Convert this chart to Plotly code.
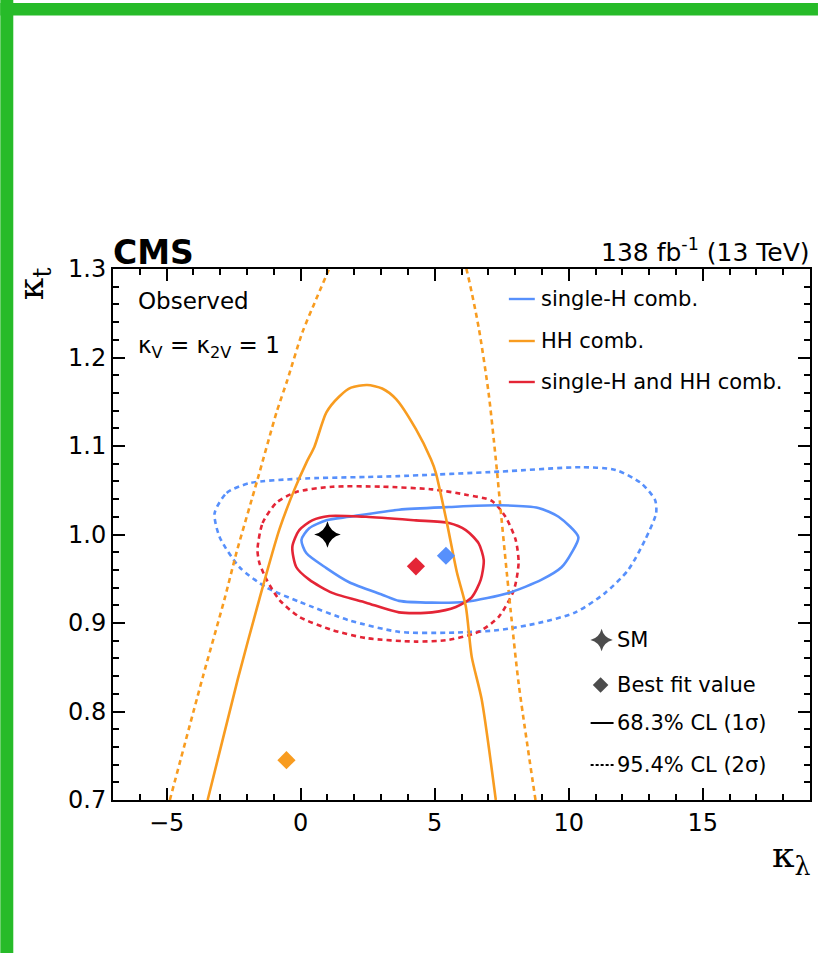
import plotly.graph_objects as go

# ---------------- data: likelihood contours in the (kappa_lambda, kappa_t) plane ----------------
# HH combination (open contours, leaving the plotted range)
hh_1s_kl = [-3.47, -2.35, -1.54, -0.79, -0.23, 0.21, 0.51, 0.96, 1.44, 1.88, 2.48,
            3.04, 3.56, 4.30, 4.86, 5.04, 5.45, 5.83, 6.16, 6.38, 6.75, 7.28]
hh_1s_kt = [0.700, 0.836, 0.927, 1.006, 1.051, 1.081, 1.099, 1.138, 1.156, 1.166, 1.169,
            1.165, 1.153, 1.119, 1.085, 1.070, 1.014, 0.957, 0.919, 0.862, 0.814, 0.700]

hh_2s_left_kl = [-4.88, -3.65, -2.84, -2.39, -1.61, -0.90, -0.49, 0.06, 0.58, 1.07, 1.33]
hh_2s_left_kt = [0.700, 0.839, 0.927, 0.980, 1.062, 1.138, 1.175, 1.228, 1.266, 1.301, 1.322]
hh_2s_right_kl = [8.76, 8.13, 7.83, 7.64, 7.46, 7.28, 7.01, 6.64, 6.20, 5.97]
hh_2s_right_kt = [0.700, 0.832, 0.915, 0.972, 1.028, 1.085, 1.160, 1.234, 1.298, 1.321]

# single-H combination
sh_1s_kl = [0.03, 0.32, 0.96, 1.81, 3.67, 5.53, 7.39, 8.87, 9.62, 10.36, 10.10, 9.73,
            8.99, 7.76, 6.16, 4.90, 3.67, 3.04, 1.81, 0.96, 0.21]
sh_1s_kt = [0.994, 1.007, 1.016, 1.020, 1.028, 1.031, 1.033, 1.030, 1.020, 0.997, 0.979, 0.963,
            0.949, 0.934, 0.924, 0.923, 0.925, 0.932, 0.946, 0.962, 0.979]
sh_2s_kl = [-3.21, -2.76, -1.91, -0.05, 2.44, 3.67, 7.39, 10.47, 11.74, 12.70, 13.22, 13.26,
            12.85, 12.22, 11.36, 10.25, 8.87, 7.39, 5.53, 3.67, 1.81, -0.05, -1.27, -2.28, -3.02]
sh_2s_kt = [1.024, 1.047, 1.058, 1.063, 1.065, 1.066, 1.071, 1.076, 1.073, 1.058, 1.039, 1.024,
            0.994, 0.960, 0.934, 0.912, 0.900, 0.892, 0.889, 0.890, 0.903, 0.924, 0.940, 0.963, 0.997]

# single-H and HH combination
cb_1s_kl = [-0.31, -0.05, 0.43, 1.07, 2.44, 4.30, 5.53, 6.16, 6.64, 6.83, 6.72, 6.38,
            5.79, 4.90, 3.67, 2.44, 1.18, 0.32, -0.16]
cb_1s_kt = [0.986, 1.005, 1.016, 1.021, 1.020, 1.016, 1.013, 1.005, 0.990, 0.971, 0.949, 0.929,
            0.918, 0.912, 0.912, 0.923, 0.934, 0.949, 0.963]
cb_2s_kl = [-1.61, -1.42, -0.90, -0.16, 1.18, 3.04, 4.90, 6.16, 7.13, 7.64, 8.02, 8.13,
            7.95, 7.39, 6.64, 5.53, 4.30, 2.44, 1.18, -0.05, -0.79, -1.27, -1.54]
cb_2s_kt = [0.983, 1.013, 1.036, 1.048, 1.054, 1.054, 1.051, 1.045, 1.038, 1.020, 0.994, 0.968,
            0.937, 0.907, 0.890, 0.881, 0.879, 0.883, 0.892, 0.907, 0.926, 0.949, 0.968]

# best-fit points and Standard Model expectation
bestfit_kl = {"single-H": 5.42, "HH": -0.53, "comb": 4.30}
bestfit_kt = {"single-H": 0.976, "HH": 0.745, "comb": 0.964}
sm_kl, sm_kt = [1.0], [1.0]

x_range = [-7, 19]
y_range = [0.7, 1.3]
x_ticks = [-5, 0, 5, 10, 15]
y_ticks = [0.7, 0.8, 0.9, 1.0, 1.1, 1.2, 1.3]
x_minor_step = 1
y_minor_step = 0.02

legend_labels = ["single-H comb.", "HH comb.", "single-H and HH comb."]
style_labels = ["SM", "Best fit value", "68.3% CL (1\u03c3)", "95.4% CL (2\u03c3)"]

# ---------------- style ----------------
BLUE, ORANGE, RED = "#5790fc", "#f89c20", "#e42536"
GREEN = "#27bb29"
SANS = "DejaVu Sans"
SERIF = "DejaVu Serif"
DOT = "5px,4px"
LW = 2.6

W, H = 820, 953
ML, MR, MT, MB = 113, 8, 269, 153
PW, PH = W - ML - MR, H - MT - MB


def fx(px):
    """page pixel column -> paper x"""
    return (px - ML) / PW


def fy(py):
    """page pixel row -> paper y"""
    return (H - MB - py) / PH


def dx(px):
    """page pixel column -> kappa_lambda"""
    return x_range[0] + fx(px) * (x_range[1] - x_range[0])


def dy(py):
    """page pixel row -> kappa_t"""
    return y_range[0] + fy(py) * (y_range[1] - y_range[0])


def closed(xs, ys):
    return list(xs) + [xs[0]], list(ys) + [ys[0]]


fig = go.Figure()


def contour(xs, ys, color, dash=None, close=False):
    if close:
        xs, ys = closed(xs, ys)
    fig.add_trace(go.Scatter(
        x=xs, y=ys, mode="lines",
        line=dict(color=color, width=LW, dash=dash, shape="spline", smoothing=0.7),
        hoverinfo="skip", showlegend=False))


contour(sh_2s_kl, sh_2s_kt, BLUE, DOT, close=True)
contour(cb_2s_kl, cb_2s_kt, RED, DOT, close=True)
contour(hh_2s_left_kl, hh_2s_left_kt, ORANGE, DOT)
contour(hh_2s_right_kl, hh_2s_right_kt, ORANGE, DOT)
contour(sh_1s_kl, sh_1s_kt, BLUE, close=True)
contour(cb_1s_kl, cb_1s_kt, RED, close=True)
contour(hh_1s_kl, hh_1s_kt, ORANGE)

for key, col in [("single-H", BLUE), ("HH", ORANGE), ("comb", RED)]:
    fig.add_trace(go.Scatter(
        x=[bestfit_kl[key]], y=[bestfit_kt[key]], mode="markers",
        marker=dict(symbol="diamond", size=14, color=col, line=dict(width=0)),
        hoverinfo="skip", showlegend=False))

fig.add_trace(go.Scatter(
    x=sm_kl, y=sm_kt, mode="markers",
    marker=dict(symbol="star-diamond", size=19, color="black", line=dict(width=0)),
    hoverinfo="skip", showlegend=False))

# key symbols for the marker legend
fig.add_trace(go.Scatter(
    x=[dx(603), dx(602)], y=[dy(640), dy(685)], mode="markers",
    marker=dict(symbol=["star-diamond", "diamond"], size=[16, 12], color="black",
                line=dict(width=0)),
    hoverinfo="skip", showlegend=False))

# frame with inward major and minor ticks mirrored on all four sides
axis_common = dict(
    showgrid=False, zeroline=False, showline=True, linecolor="black", linewidth=2,
    mirror="allticks", ticks="inside", ticklen=12, tickwidth=2, tickcolor="black",
    layer="above traces",
    tickfont=dict(family=SANS, size=24, color="black"),
)
minor_common = dict(ticks="inside", ticklen=6, tickwidth=2, tickcolor="black", showgrid=False)

fig.update_layout(
    width=W, height=H,
    margin=dict(l=ML, r=MR, t=MT, b=MB, pad=0),
    paper_bgcolor="white", plot_bgcolor="white",
    showlegend=False,
    xaxis=dict(range=x_range, tickmode="array", tickvals=x_ticks,
               minor=dict(dtick=x_minor_step, tick0=0, **minor_common), **axis_common),
    yaxis=dict(range=y_range, tickmode="array", tickvals=y_ticks, tickformat=".1f",
               minor=dict(dtick=y_minor_step, tick0=y_range[0], **minor_common), **axis_common),
)

shapes = []
ann = []


def text(px, py, s, size=22, anchor="left", family=SANS, color="black", vanchor="middle", angle=0):
    ann.append(dict(x=fx(px), y=fy(py), xref="paper", yref="paper", text=s, showarrow=False,
                    xanchor=anchor, yanchor=vanchor, textangle=angle,
                    font=dict(family=family, size=size, color=color)))


# header
text(111, 252, "<b>CMS</b>", size=33)
text(814, 250, "138 fb<sup>-1</sup> (13 TeV)", size=25, anchor="right")
# axis titles
text(33, 284, "\u03ba<sub>t</sub>", size=36, family=SERIF, anchor="center", angle=-90)
text(793, 857, "\u03ba<sub>\u03bb</sub>", size=36, family=SERIF, anchor="center")
# in-frame labels
text(136, 301, "Observed", size=23)
text(136, 347, "\u03ba<sub>V</sub> = \u03ba<sub>2V</sub> = 1", size=23)

for lbl, col, py in zip(legend_labels, [BLUE, ORANGE, RED], [299, 341, 382]):
    shapes.append(dict(type="line", xref="paper", yref="paper", x0=fx(510), x1=fx(536),
                       y0=fy(py), y1=fy(py), line=dict(color=col, width=2.4)))
    text(540, py, lbl, size=21)

for lbl, py in zip(style_labels, [640, 685, 723, 765]):
    text(616, py, lbl, size=21)
shapes.append(dict(type="line", xref="paper", yref="paper", x0=fx(592), x1=fx(615),
                   y0=fy(723), y1=fy(723), line=dict(color="black", width=2)))
shapes.append(dict(type="line", xref="paper", yref="paper", x0=fx(592), x1=fx(615),
                   y0=fy(765), y1=fy(765), line=dict(color="black", width=2, dash="3px,2px")))

# page frame bars
shapes.append(dict(type="rect", xref="paper", yref="paper", x0=fx(0), x1=fx(W),
                   y0=fy(15.5), y1=fy(3), line=dict(width=0), fillcolor=GREEN, layer="above"))
shapes.append(dict(type="rect", xref="paper", yref="paper", x0=fx(0), x1=fx(13),
                   y0=fy(H), y1=fy(0), line=dict(width=0), fillcolor=GREEN, layer="above"))

fig.update_layout(annotations=ann, shapes=shapes)

fig.write_html("out.html")
